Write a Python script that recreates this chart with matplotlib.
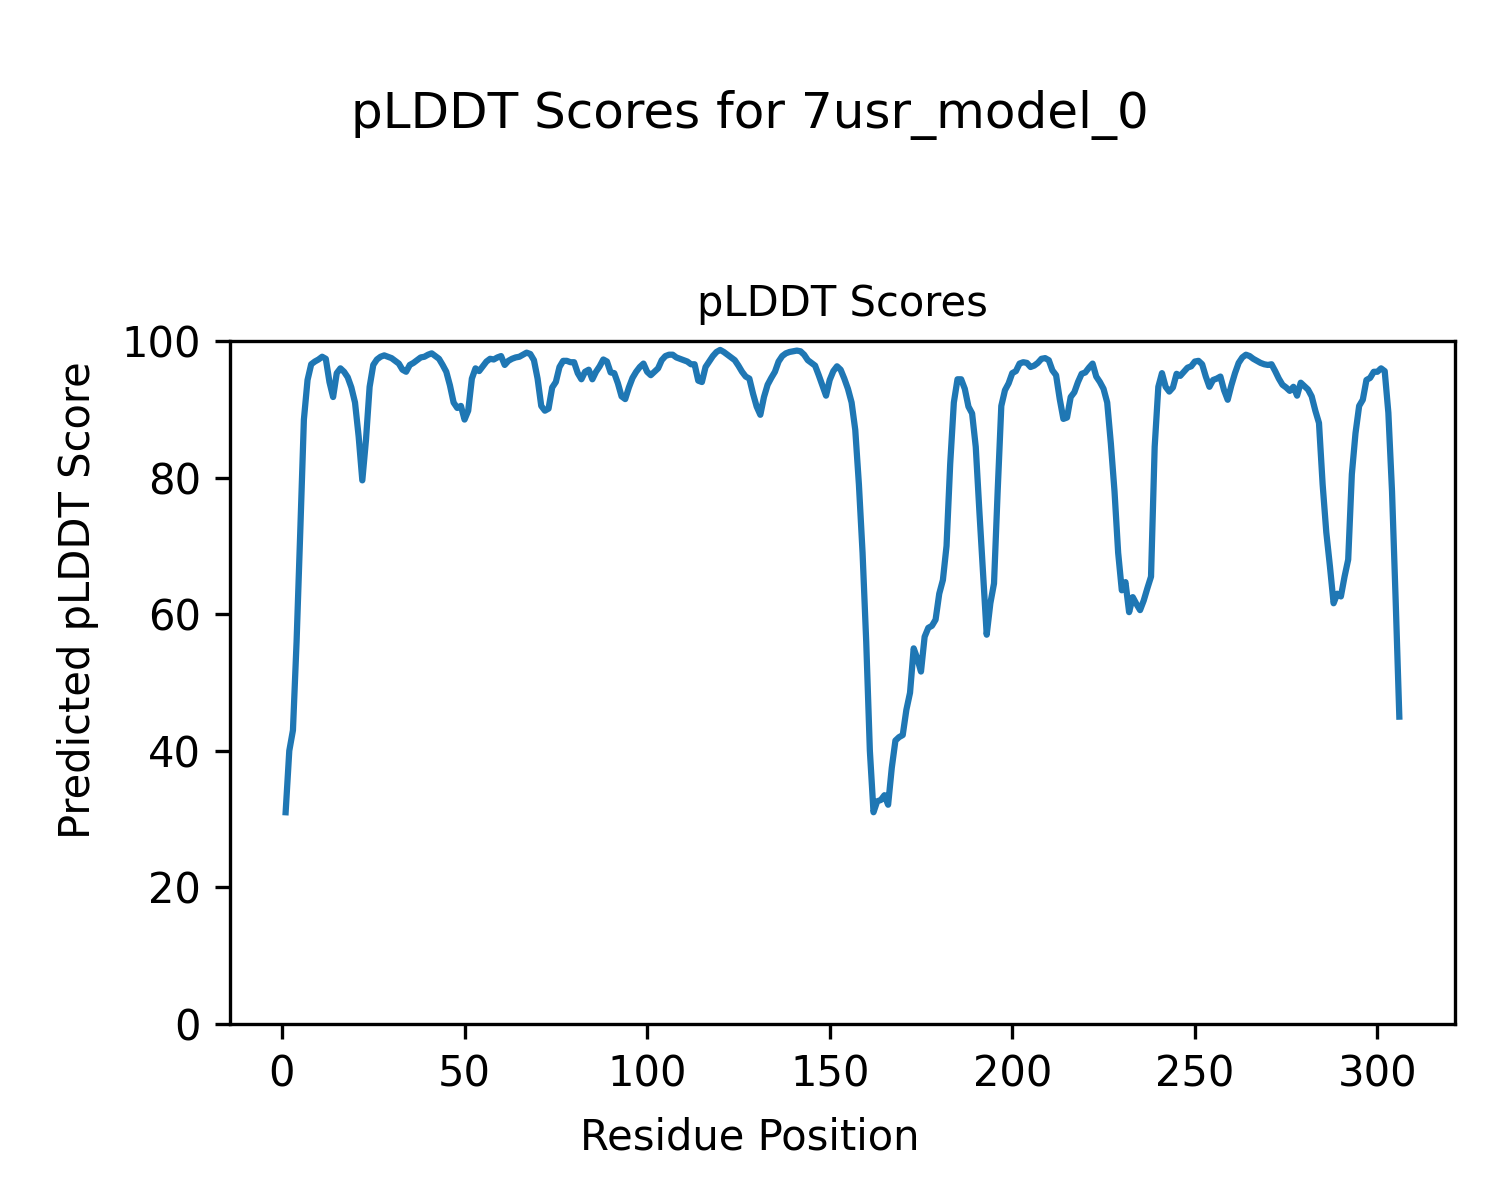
import matplotlib
matplotlib.use("Agg")
import matplotlib.pyplot as plt

scores = [
    31, 40, 43, 56, 72, 88.5, 94.3, 96.6, 97, 97.3,
    97.7, 97.4, 94, 91.8, 95.3, 96, 95.5, 94.7, 93.2, 91,
    86, 79.6, 85.5, 93.3, 96.5, 97.3, 97.7, 97.9, 97.7, 97.5,
    97.1, 96.7, 95.8, 95.5, 96.5, 96.8, 97.2, 97.6, 97.7, 98,
    98.2, 97.8, 97.4, 96.5, 95.5, 93.5, 91, 90.2, 90.5, 88.5,
    89.8, 94.5, 96, 95.6, 96.3, 97, 97.4, 97.3, 97.6, 97.8,
    96.5, 97.1, 97.4, 97.6, 97.7, 98, 98.3, 98.1, 97.2, 94.5,
    90.5, 89.8, 90.1, 93.2, 94, 96.2, 97.1, 97.1, 96.9, 96.9,
    95.3, 94.4, 95.5, 95.8, 94.4, 95.5, 96.3, 97.3, 97, 95.4,
    95.3, 93.8, 91.9, 91.5, 93.2, 94.6, 95.5, 96.2, 96.7, 95.5,
    95, 95.5, 96, 97.2, 97.8, 98, 98, 97.6, 97.4, 97.2,
    97, 96.6, 96.6, 94.2, 94, 96.2, 97, 97.8, 98.4, 98.7,
    98.4, 98, 97.6, 97.2, 96.4, 95.5, 94.8, 94.5, 92.3, 90.4,
    89.2, 91.8, 93.6, 94.6, 95.5, 97, 97.8, 98.2, 98.4, 98.5,
    98.6, 98.5, 98, 97.2, 96.8, 96.4, 95, 93.5, 92, 94.3,
    95.6, 96.3, 95.8, 94.5, 93, 91, 87, 79, 69, 56,
    40, 31, 32.6, 32.8, 33.5, 32.1, 37.5, 41.5, 42, 42.3,
    46, 48.5, 55, 53.5, 51.6, 56.7, 58, 58.3, 59.2, 63,
    65, 70, 82, 91, 94.4, 94.4, 93, 90.4, 89.4, 84.5,
    75, 66, 57, 61.6, 64.5, 78, 90.5, 92.8, 93.8, 95.3,
    95.6, 96.7, 96.9, 96.8, 96.2, 96.4, 96.8, 97.4, 97.5, 97.2,
    95.7, 95, 91.5, 88.6, 88.8, 91.8, 92.5, 94, 95.2, 95.4,
    96.1, 96.7, 94.8, 94, 93, 91, 85, 78, 69, 63.5,
    64.7, 60.3, 62.5, 61.5, 60.6, 62, 63.8, 65.5, 84.5, 93.3,
    95.3, 93.3, 92.6, 93.2, 95.2, 94.9, 95.5, 96.1, 96.3, 97,
    97.1, 96.6, 94.8, 93.3, 94.3, 94.5, 94.8, 92.8, 91.4, 93.5,
    95.3, 96.8, 97.6, 98, 97.8, 97.4, 97.1, 96.8, 96.6, 96.5,
    96.6, 95.6, 94.5, 93.6, 93.2, 92.7, 93.3, 92, 93.9, 93.4,
    92.9, 91.9, 89.8, 88, 79, 72, 67, 61.6, 63, 62.6,
    65.5, 68, 80.5, 86.5, 90.5, 91.4, 94.3, 94.6, 95.5, 95.5,
    96, 95.6, 89.5, 78, 62, 45,
]
residues = list(range(1, len(scores) + 1))

fig = plt.figure(figsize=(5, 4), dpi=300)
ax = fig.add_axes([0.1533, 0.1467, 0.8167, 0.5691])
ax.plot(residues, scores, color="#1f77b4", linewidth=1.5)
ax.set_ylim(0, 100)
ax.set_title("pLDDT Scores", fontsize=10)
fig.text(0.5, 0.052, "Residue Position", ha="center", va="center", fontsize=10)
fig.text(0.052, 0.5, "Predicted pLDDT Score", ha="center", va="center",
         rotation=90, fontsize=10)
fig.suptitle("pLDDT Scores for 7usr_model_0", fontsize=12, y=0.925)
fig.savefig("out.png", dpi=300)
